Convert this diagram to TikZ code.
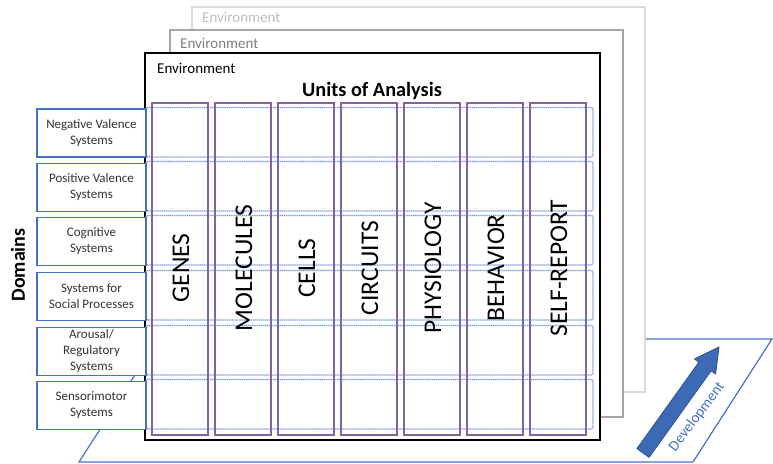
\documentclass[tikz,border=0pt]{standalone}
\usepackage{fontspec}
\setmainfont{Carlito}
\definecolor{dblue}{HTML}{4472C4}
\definecolor{purp}{HTML}{8064A2}
\definecolor{dotb}{HTML}{6F8FD6}
\definecolor{dotunder}{HTML}{D4DEF3}
\definecolor{envmid}{HTML}{A6A6A6}
\definecolor{envback}{HTML}{D9D9D9}
\definecolor{envmidtext}{HTML}{808080}
\definecolor{envbacktext}{HTML}{BFBFBF}
\definecolor{arrowfill}{HTML}{3D6AB5}
\definecolor{arrowedge}{HTML}{2F528F}
\begin{document}
\begin{tikzpicture}[x=1pt,y=-1pt,
  domainbox/.style={draw=dblue, line width=1.6pt, fill=white, minimum width=109pt, minimum height=48pt, align=center, font=\fontsize{13}{16}\selectfont, text=black!80, inner sep=0pt},
  unitcol/.style={draw=purp, line width=1.2pt, minimum width=56pt, minimum height=332pt, inner sep=0pt},
  unitlabel/.style={rotate=90, font=\fontsize{25.5}{28}\selectfont, inner sep=0pt},
  rowunder/.style={draw=dotunder, line width=1.6pt, rounded corners=2pt},
  rowband/.style={draw=dotb, densely dotted, line width=0.9pt, rounded corners=2pt},
  envbox/.style={fill=white, line width=1.5pt},
  envlabel/.style={anchor=west, font=\fontsize{15}{18}\selectfont, inner sep=0pt}]
\useasboundingbox (0,0) rectangle (773,463);
% development plane
\draw[dblue, line width=1.2pt] (79,462) -- (693,462) -- (772,339) -- (158,339) -- cycle;
% environment boxes
\draw[envbox, draw=envback] (192,7) rectangle (645,392);
\node[envlabel, text=envbacktext] (envback) at (202,17) {Environment};
\draw[envbox, draw=envmid] (170,30) rectangle (623,417);
\node[envlabel, text=envmidtext] (envmid) at (180,43) {Environment};
\draw[envbox, draw=black, line width=1.8pt] (145,53) rectangle (600,440);
\node[envlabel, text=black] (envfront) at (157,68) {Environment};
\node[font=\bfseries\fontsize{20.3}{24}\selectfont] (units) at (372,91) {Units of Analysis};
% dotted row bands
\foreach \t in {109,163,217,272,327,381} {
  \draw[rowunder] (146,\t-1.5) rectangle (593,\t+48);
  \draw[rowband] (146,\t-1.5) rectangle (593,\t+48);
}
% unit columns
\foreach \k/\nm in {0/GENES,1/MOLECULES,2/CELLS,3/CIRCUITS,4/PHYSIOLOGY,5/BEHAVIOR,6/SELF-REPORT} {
  \node[unitcol] (col\k) at (180+63*\k,269) {};
  \node[unitlabel] (lab\k) at (181+63*\k,268) {\nm};
}
% domains
\node[domainbox] (d1) at (91.5,133) {Negative Valence\\Systems};
\node[domainbox] (d2) at (91.5,187.5) {Positive Valence\\Systems};
\node[domainbox] (d3) at (91.5,241.5) {Cognitive\\Systems};
\node[domainbox] (d4) at (91.5,296.5) {Systems for\\Social Processes};
\node[domainbox] (d5) at (91.5,351.5) {Arousal/\\Regulatory\\Systems};
\node[domainbox] (d6) at (91.5,405.5) {Sensorimotor\\Systems};
\node[rotate=90, font=\bfseries\fontsize{20}{24}\selectfont] (domains) at (18,265) {Domains};
% development arrow
\filldraw[fill=arrowfill, draw=arrowedge, line width=0.8pt, line join=round]
  (636.9,448.6) -- (698.9,362.1) -- (694.4,358.9) -- (719,347) -- (715.6,374.1) -- (711.1,370.9) -- (649.1,457.4) -- cycle;
\node[rotate=53, text=dblue, font=\fontsize{15}{18}\selectfont] (dev) at (697,417) {Development};
\end{tikzpicture}
\end{document}
